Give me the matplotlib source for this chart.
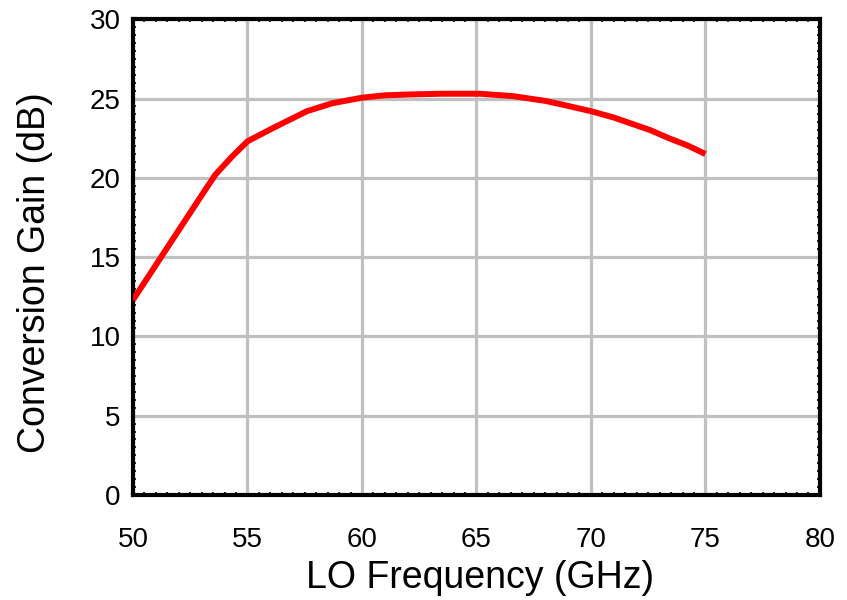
import matplotlib
matplotlib.use("Agg")
import matplotlib.pyplot as plt
from matplotlib.ticker import MultipleLocator

plt.rcParams['font.family'] = ['Liberation Sans', 'DejaVu Sans']

freq = [50, 51, 52, 53, 53.6, 54.3, 55, 56.2, 57.6, 58.7, 60, 61, 62.2, 63.5,
        65.15, 66.6, 68, 68.8, 70, 71, 71.8, 72.6, 73.4, 74.2, 75]
gain = [12.3, 14.5, 16.7, 18.9, 20.2, 21.3, 22.3, 23.2, 24.2, 24.7, 25.05, 25.2,
        25.26, 25.3, 25.3, 25.15, 24.85, 24.6, 24.2, 23.8, 23.4, 23.0, 22.5, 22.05, 21.5]

x_ticks = [50, 55, 60, 65, 70, 75, 80]
y_ticks = [0, 5, 10, 15, 20, 25, 30]

fig = plt.figure(figsize=(8.47, 6.0), dpi=100)
ax = fig.add_axes([0.157, 0.175, 0.811, 0.793])

ax.plot(freq, gain, color='#ff0000', lw=4.3, solid_capstyle='butt', zorder=3)

ax.set_xlim(50, 80)
ax.set_ylim(0, 30)
ax.set_xticks(x_ticks)
ax.set_yticks(y_ticks)
ax.xaxis.set_minor_locator(MultipleLocator(0.5))
ax.yaxis.set_minor_locator(MultipleLocator(0.5))

ax.grid(True, which='major', color='#c0c0c0', lw=2.3, zorder=1)
ax.set_axisbelow(True)

for s in ax.spines.values():
    s.set_linewidth(3)
    s.set_color('black')

ax.tick_params(axis='both', which='major', length=0, labelsize=20)
ax.tick_params(axis='y', which='major', pad=9)
ax.tick_params(axis='x', which='major', pad=23)
ax.tick_params(axis='both', which='minor', length=2.5, width=1.2, direction='in',
               top=True, right=True)

ax.set_xlabel('LO Frequency (GHz)', fontsize=27)
ax.set_ylabel('Conversion Gain (dB)', fontsize=27)
ax.xaxis.set_label_coords(0.505, -0.174)
ax.yaxis.set_label_coords(-0.143, 0.468)
ax.xaxis.label.set_va('center')
ax.yaxis.label.set_va('center')

fig.savefig('out.png', dpi=100)
